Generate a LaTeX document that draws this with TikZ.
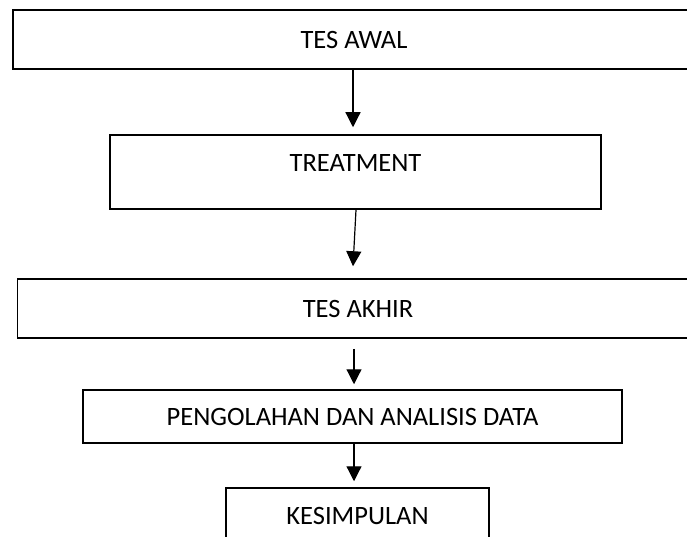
\documentclass[tikz,border=0pt]{standalone}
\usepackage{fontspec}
\setmainfont{Carlito}
\usetikzlibrary{arrows.meta}
\begin{document}
\begin{tikzpicture}[x=1pt,y=-1pt,
  box/.style={draw=black, line width=1.5pt, inner sep=0pt, font=\fontsize{26.5}{30}\selectfont},
  arr/.style={line width=1.2pt, -{Triangle[width=15pt,length=15pt]}}]
\useasboundingbox (0,0) rectangle (687,537);
\clip (0,0) rectangle (687,537);
\node[box, minimum width=682pt, minimum height=59pt] (b1) at (354,39.5) {TES AWAL};
\node[box, minimum width=491pt, minimum height=74pt, text depth=18pt] (b2) at (355.5,172) {TREATMENT};
\node[box, minimum width=681pt, minimum height=59pt] (b3) at (358,308.5) {TES AKHIR};
\node[box, minimum width=539pt, minimum height=53pt] (b4) at (352.5,416.5) {PENGOLAHAN DAN ANALISIS DATA};
\node[box, minimum width=263pt, minimum height=56pt] (b5) at (357.5,516) {KESIMPULAN};
\draw[arr] ([xshift=-1pt]b1.south) -- ([xshift=-2.5pt,yshift=7pt]b2.north);
\draw[arr] ([xshift=0.5pt]b2.south) -- ([xshift=-5pt,yshift=12pt]b3.north);
\draw[arr] ([xshift=-4pt,yshift=-10pt]b3.south) -- ([xshift=1.5pt,yshift=5pt]b4.north);
\draw[arr] ([xshift=1.5pt]b4.south) -- ([xshift=-3.5pt,yshift=6pt]b5.north);
\end{tikzpicture}
\end{document}
